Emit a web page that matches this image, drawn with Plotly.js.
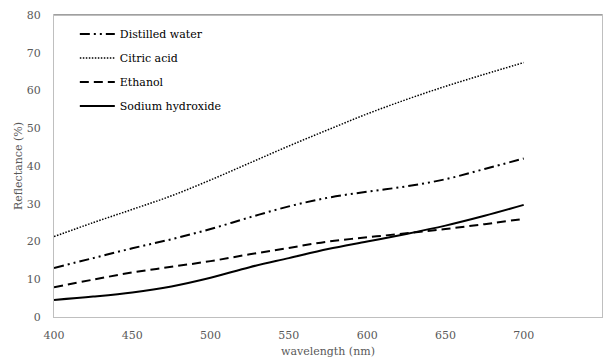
<!DOCTYPE html>
<html>
<head>
<meta charset="utf-8">
<script src="https://cdn.plot.ly/plotly-3.0.1.min.js"></script>
<style>html,body{margin:0;padding:0;background:#fff;}#chart{width:610px;height:360px;}</style>
</head>
<body>
<div id="chart"></div>
<script>
var wavelength = [400, 425, 450, 475, 500, 525, 550, 575, 600, 625, 650, 675, 700];
var distilledWater = [13.0, 15.6, 18.2, 20.6, 23.3, 26.4, 29.3, 31.6, 33.2, 34.6, 36.5, 39.2, 42.0];
var citricAcid = [21.3, 25.0, 28.5, 32.1, 36.3, 40.8, 45.3, 49.6, 53.8, 57.6, 61.1, 64.3, 67.4];
var ethanol = [7.9, 9.9, 11.8, 13.3, 14.8, 16.6, 18.3, 20.0, 21.1, 22.2, 23.3, 24.6, 26.0];
var sodiumHydroxide = [4.5, 5.4, 6.5, 8.1, 10.4, 13.2, 15.6, 18.0, 20.0, 22.0, 24.2, 26.8, 29.7];
var names = ["Distilled water", "Citric acid", "Ethanol", "Sodium hydroxide"];

var serif = "DejaVu Serif";
var grey = "#595959";

var series = [distilledWater, citricAcid, ethanol, sodiumHydroxide];
var dashes = ["10px,4px,2px,4px,2px,4px", "1.5px,1.5px", "9px,5px", "solid"];
var widths = [2, 1.5, 2, 2];

var traces = series.map(function (ys, i) {
  return {
    x: wavelength, y: ys, name: names[i], type: "scatter", mode: "lines",
    line: {color: "#000", width: widths[i], dash: dashes[i], shape: "spline", smoothing: 1},
    legendgroup: "g" + i
  };
});

var layout = {
  width: 610, height: 360,
  margin: {l: 54, r: 8, t: 15, b: 43},
  paper_bgcolor: "#fff", plot_bgcolor: "#fff",
  font: {family: serif, size: 11, color: grey},
  showlegend: true,
  legend: {
    x: 0.038, y: 0.985, xanchor: "left", yanchor: "top",
    bgcolor: "rgba(0,0,0,0)", traceorder: "grouped", tracegroupgap: 5,
    itemwidth: 35,
    font: {family: serif, size: 11, color: "#000"}
  },
  xaxis: {
    range: [400, 750], tickvals: [400, 450, 500, 550, 600, 650, 700, 750],
    showgrid: false, zeroline: false, showline: true, mirror: true,
    linecolor: "#bfbfbf", linewidth: 1, ticks: "", ticklabelstandoff: 8,
    tickfont: {family: serif, size: 11, color: grey},
    title: {text: "wavelength (nm)", font: {family: serif, size: 11, color: grey}, standoff: 6}
  },
  yaxis: {
    range: [0, 80], tickvals: [0, 10, 20, 30, 40, 50, 60, 70, 80],
    showgrid: false, zeroline: false, showline: true, mirror: true,
    linecolor: "#bfbfbf", linewidth: 1, ticks: "", ticklabelstandoff: 10,
    tickfont: {family: serif, size: 11, color: grey},
    title: {text: "Reflectance (%)", font: {family: serif, size: 11, color: grey}, standoff: 1}
  },
  shapes: [
    {type: "line", xref: "paper", yref: "paper", x0: 0, x1: 1, y0: 1, y1: 1, line: {color: "#7f7f7f", width: 1}}
  ]
};

Plotly.newPlot("chart", traces, layout, {displayModeBar: false, staticPlot: true});
</script>
</body>
</html>
